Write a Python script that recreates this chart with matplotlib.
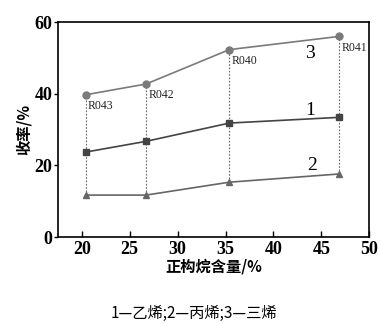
import matplotlib
matplotlib.use("Agg")
import matplotlib.pyplot as plt

x = [20.4, 26.7, 35.4, 46.9]
ethylene = [23.7, 26.7, 31.8, 33.4]
propylene = [11.7, 11.7, 15.3, 17.6]
triene = [39.7, 42.7, 52.3, 56.0]
run_labels = ["R043", "R042", "R040", "R041"]
xticks = [20, 25, 30, 35, 40, 45, 50]
yticks = [0, 20, 40, 60]

serif = ["Liberation Serif", "DejaVu Serif"]
cjk = ["Noto Sans CJK SC", "DejaVu Sans"]

fig = plt.figure(figsize=(3.81, 3.24), dpi=100)
ax = fig.add_axes([0.152, 0.2685, 0.817, 0.6635])

for xi, lo, hi in zip(x, propylene, triene):
    ax.plot([xi, xi], [lo, hi], linestyle=(0, (1.5, 1.5)), color="#666666", lw=0.8, zorder=1)

ax.plot(x, triene, color="#7a7a7a", marker="o", ms=5, lw=1.2, zorder=3)
ax.plot(x, ethylene, color="#444444", marker="s", ms=4.5, lw=1.2, zorder=3)
ax.plot(x, propylene, color="#666666", marker="^", ms=5, lw=1.2, zorder=3)

for xi, yi, lab in zip(x, triene, run_labels):
    ax.text(xi + 0.25, yi - 1.5, lab, fontsize=8.5, family=serif, va="top", ha="left", color="#222222")

ax.text(43.8, 51.3, "3", fontsize=14, family=serif, ha="center", va="center")
ax.text(43.8, 35.2, "1", fontsize=14, family=serif, ha="center", va="center")
ax.text(44.0, 20.0, "2", fontsize=14, family=serif, ha="center", va="center")

ax.set_xlim(17.5, 50)
ax.set_ylim(0, 60)
ax.set_xticks(xticks)
ax.set_yticks(yticks)
ax.tick_params(axis="x", direction="in", length=4, width=1, pad=3)
ax.tick_params(axis="y", direction="out", length=3, width=1, pad=1)
for lab in ax.get_xticklabels() + ax.get_yticklabels():
    lab.set_family(serif)
    lab.set_fontsize(13)
    lab.set_fontweight("bold")
for s in ax.spines.values():
    s.set_linewidth(1.2)

ax.set_xlabel("正构烷含量/%", family=cjk, fontsize=11, fontweight="bold", labelpad=0)
ax.set_ylabel("收率/%", family=cjk, fontsize=11, fontweight="bold", labelpad=2)

fig.text(0.51, 0.033, "1—乙烯;2—丙烯;3—三烯", family=cjk, fontsize=11, ha="center", va="center")

fig.savefig("out.png", dpi=100)
